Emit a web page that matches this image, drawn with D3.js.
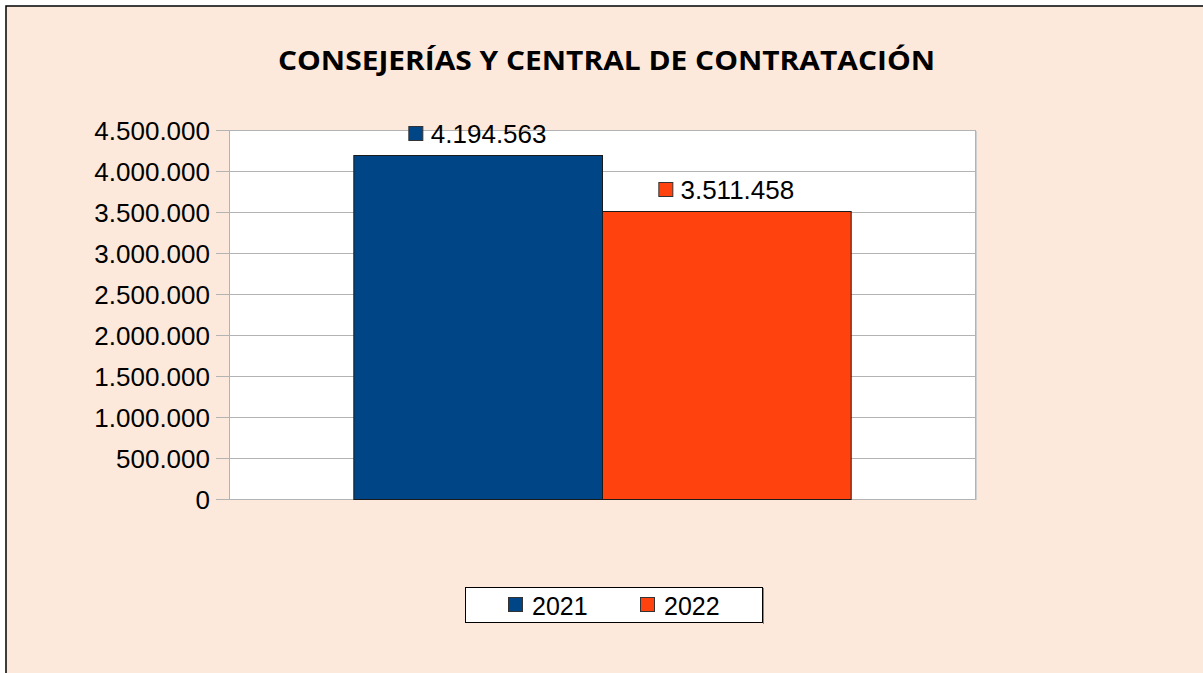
<!DOCTYPE html>
<html>
<head>
<meta charset="utf-8">
<script src="https://cdn.jsdelivr.net/npm/d3@7"></script>
<style>
  html, body { margin: 0; padding: 0; background: #ffffff; }
  svg { display: block; }
</style>
</head>
<body>
<script>
// Chart data
const title = "CONSEJERÍAS Y CENTRAL DE CONTRATACIÓN";
const categories = [""];
const seriesNames = ["2021", "2022"];
const seriesValues = [4194563, 3511458];
const seriesColors = ["#004586", "#ff420e"];
const yTicks = [0, 500000, 1000000, 1500000, 2000000, 2500000, 3000000, 3500000, 4000000, 4500000];

const W = 1203, H = 673;
const plot = { left: 229, right: 975, top: 130, bottom: 499 };

const es = d3.formatLocale({ decimal: ",", thousands: ".", grouping: [3], currency: ["", " €"] });
const fmt = es.format(",d");

const svg = d3.select("body").append("svg").attr("width", W).attr("height", H);

// Page background and frame
svg.append("rect").attr("x", 0).attr("y", 0).attr("width", W).attr("height", H).attr("fill", "#ffffff");
svg.append("rect").attr("x", 6).attr("y", 6).attr("width", W).attr("height", H)
  .attr("fill", "#fde9db").attr("stroke", "#000").attr("stroke-width", 1.5);

// Title
svg.append("text")
  .attr("x", 606.5).attr("y", 70)
  .attr("text-anchor", "middle")
  .attr("font-family", "'Open Sans', 'Noto Sans', sans-serif")
  .attr("font-weight", "bold")
  .attr("font-size", 27.5)
  .attr("textLength", 657).attr("lengthAdjust", "spacingAndGlyphs")
  .attr("fill", "#000")
  .text(title);

// Scales
const y = d3.scaleLinear().domain([0, 4500000]).range([plot.bottom, plot.top]);
const x0 = d3.scaleBand().domain(categories).range([plot.left, plot.right]).paddingOuter(0.25).paddingInner(0);
const x1 = d3.scaleBand().domain(seriesNames).range([0, x0.bandwidth()]);

// Plot area
svg.append("rect")
  .attr("x", plot.left).attr("y", plot.top)
  .attr("width", plot.right - plot.left).attr("height", plot.bottom - plot.top)
  .attr("fill", "#ffffff");

// Gridlines
svg.append("g").selectAll("line").data(yTicks).join("line")
  .attr("x1", plot.left).attr("x2", plot.right)
  .attr("y1", d => Math.round(y(d)) + 0.5).attr("y2", d => Math.round(y(d)) + 0.5)
  .attr("stroke", "#b3b3b3").attr("stroke-width", 1);

// Plot border (left and right)
svg.append("line").attr("x1", plot.left + 0.5).attr("x2", plot.left + 0.5)
  .attr("y1", plot.top).attr("y2", plot.bottom).attr("stroke", "#b3b3b3");
svg.append("line").attr("x1", plot.right + 0.5).attr("x2", plot.right + 0.5)
  .attr("y1", plot.top).attr("y2", plot.bottom + 1).attr("stroke", "#b3b3b3");
svg.append("line").attr("x1", plot.right + 1.5).attr("x2", plot.right + 1.5)
  .attr("y1", plot.top + 1).attr("y2", plot.bottom + 1).attr("stroke", "#cfcfcf");

// Y axis
const yAxis = d3.axisLeft(y).tickValues(yTicks).tickFormat(fmt).tickSize(13).tickPadding(6);
const gy = svg.append("g").attr("transform", `translate(${plot.left},0)`).call(yAxis);
gy.select(".domain").remove();
gy.selectAll(".tick line").attr("stroke", "#b3b3b3");
gy.selectAll(".tick text")
  .attr("font-family", "'Liberation Sans', Arial, sans-serif")
  .attr("font-size", 26).attr("fill", "#000").attr("dy", "0.35em");

// Bars
const groups = svg.append("g").selectAll("g").data(categories).join("g")
  .attr("transform", d => `translate(${x0(d)},0)`);
groups.selectAll("rect").data(seriesNames.map((s, i) => ({ s, v: seriesValues[i], c: seriesColors[i] })))
  .join("rect")
  .attr("x", d => x1(d.s) + 0.5)
  .attr("y", d => Math.round(y(d.v)) + 0.5)
  .attr("width", x1.bandwidth())
  .attr("height", d => Math.round(y(0)) - Math.round(y(d.v)))
  .attr("fill", d => d.c)
  .attr("stroke", "#1a1a1a").attr("stroke-width", 1);

// Value labels with legend keys
const labels = groups.selectAll("g.lbl").data(seriesNames.map((s, i) => ({ s, v: seriesValues[i], c: seriesColors[i] })))
  .join("g").attr("class", "lbl");
labels.each(function (d) {
  const g = d3.select(this);
  const cx = x1(d.s) + x1.bandwidth() / 2;
  const top = y(d.v);
  const t = g.append("text")
    .attr("y", top - 12)
    .attr("font-family", "'Liberation Sans', Arial, sans-serif")
    .attr("font-size", 26).attr("fill", "#000")
    .text(fmt(d.v));
  const tw = t.node().getComputedTextLength();
  const total = 14 + 8 + tw;
  const x0s = cx - total / 2;
  g.append("rect")
    .attr("x", Math.round(x0s) + 0.5).attr("y", Math.round(top - 29) + 0.5)
    .attr("width", 14).attr("height", 14)
    .attr("fill", d.c).attr("stroke", "#333").attr("stroke-width", 1);
  t.attr("x", x0s + 22);
});

// Legend
const legend = svg.append("g");
legend.append("rect").attr("x", 465.5).attr("y", 587.5).attr("width", 297).attr("height", 35)
  .attr("fill", "#ffffff").attr("stroke", "#000").attr("stroke-width", 1);
legend.append("line").attr("x1", 763.5).attr("x2", 763.5).attr("y1", 588).attr("y2", 624)
  .attr("stroke", "#888");
const legendX = [508, 640];
seriesNames.forEach((s, i) => {
  legend.append("rect")
    .attr("x", legendX[i] + 0.5).attr("y", 597.5).attr("width", 14).attr("height", 14)
    .attr("fill", seriesColors[i]).attr("stroke", "#333").attr("stroke-width", 1);
  legend.append("text")
    .attr("x", legendX[i] + 24).attr("y", 615)
    .attr("font-family", "'Liberation Sans', Arial, sans-serif")
    .attr("font-size", 25).attr("fill", "#000")
    .text(s);
});
</script>
</body>
</html>
